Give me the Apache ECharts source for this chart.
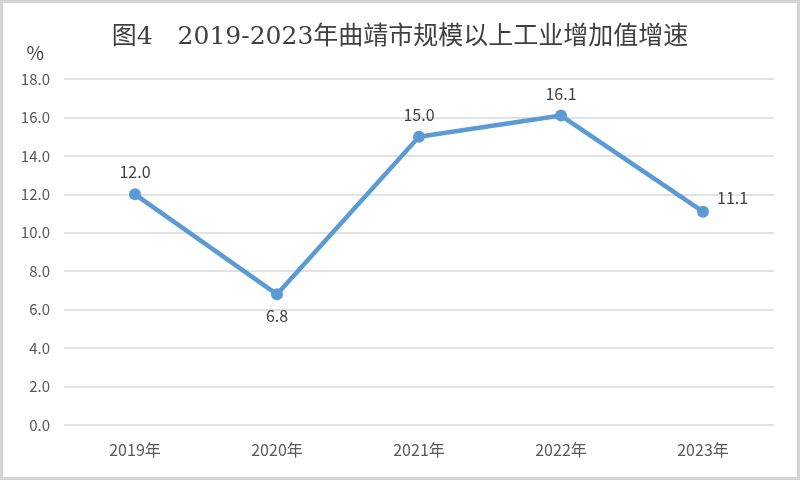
<!DOCTYPE html>
<html>
<head>
<meta charset="utf-8">
<script src="https://cdn.jsdelivr.net/npm/echarts@6/dist/echarts.min.js"></script>
<style>
  html, body { margin: 0; padding: 0; background: #fff; }
  #main { width: 800px; height: 480px; }
</style>
</head>
<body>
<div id="main"></div>
<script>
var years = ['2019年', '2020年', '2021年', '2022年', '2023年'];
var growth = [12.0, 6.8, 15.0, 16.1, 11.1];
var labelPos = ['top', 'bottom', 'top', 'top', 'right'];

var chart = echarts.init(document.getElementById('main'), null, { renderer: 'canvas' });

var option = {
    backgroundColor: '#fff',
    animation: false,
    graphic: [
        {
            type: 'rect',
            shape: { x: 1.5, y: 1.5, width: 797, height: 477 },
            style: { fill: 'none', stroke: '#d4d4d4', lineWidth: 3 },
            silent: true
        }
    ],
    title: {
        text: '图4　2019-2023年曲靖市规模以上工业增加值增速',
        left: 'center',
        top: 20,
        textStyle: {
            color: '#404040',
            fontSize: 25,
            fontWeight: 'normal',
            fontFamily: 'DejaVu Serif, Noto Sans CJK SC, serif'
        }
    },
    grid: {
        left: 64,
        right: 26,
        top: 79,
        bottom: 55,
        containLabel: false
    },
    xAxis: {
        type: 'category',
        data: years,
        boundaryGap: true,
        axisLine: { show: false },
        axisTick: { show: false },
        axisLabel: {
            color: '#595959',
            fontSize: 16,
            margin: 17,
            fontFamily: 'Noto Sans CJK SC'
        }
    },
    yAxis: {
        type: 'value',
        name: '%',
        nameLocation: 'end',
        nameGap: 17,
        nameTextStyle: {
            color: '#404040',
            fontSize: 19,
            align: 'right',
            padding: [0, 20, 0, 0],
            fontFamily: 'Noto Sans CJK SC'
        },
        min: 0,
        max: 18,
        interval: 2,
        axisLine: { show: false },
        axisTick: { show: false },
        axisLabel: {
            color: '#595959',
            fontSize: 15,
            margin: 14,
            fontFamily: 'Noto Sans CJK SC',
            formatter: function (v) { return v.toFixed(1); }
        },
        splitLine: { lineStyle: { color: '#d9d9d9', width: 1.5 } }
    },
    series: [
        {
            name: '增速',
            type: 'line',
            data: growth.map(function (v, i) {
                var lbl = { position: labelPos[i] };
                if (labelPos[i] === 'right') { lbl.offset = [0, -14]; }
                return { value: v, label: lbl };
            }),
            symbol: 'circle',
            symbolSize: 12,
            lineStyle: { color: '#5b9bd5', width: 4.5 },
            itemStyle: { color: '#5b9bd5' },
            label: {
                show: true,
                color: '#404040',
                fontSize: 16,
                distance: 8,
                fontFamily: 'Noto Sans CJK SC',
                formatter: function (p) { return p.value.toFixed(1); }
            }
        }
    ]
};

chart.setOption(option);
window.addEventListener('resize', chart.resize);
</script>
</body>
</html>
